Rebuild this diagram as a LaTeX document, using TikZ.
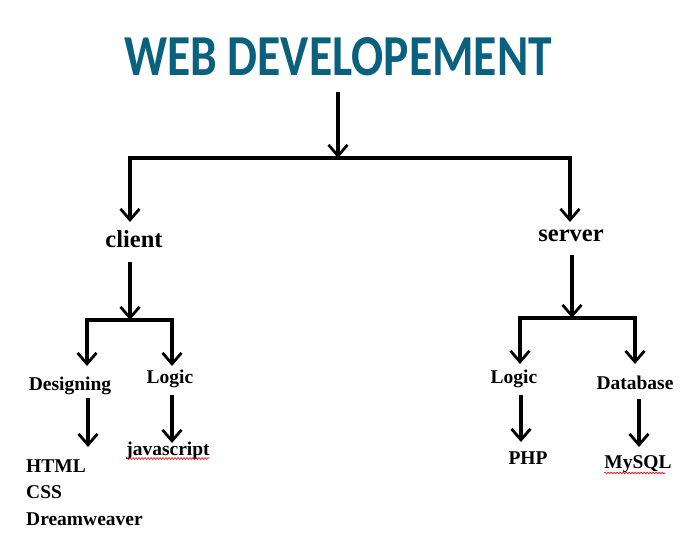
\documentclass[tikz,border=0pt]{standalone}
\usepackage{fontspec}
\setmainfont{Liberation Serif}
\newfontfamily\titlefont{Carlito}
\usetikzlibrary{arrows.meta,decorations.pathmorphing}
\definecolor{titleteal}{HTML}{0A617D}
\begin{document}
\begin{tikzpicture}[x=1pt,y=-1pt,
  conn/.style={line width=3.2pt,-{Straight Barb[length=11pt,width=19pt,line width=2.8pt]}},
  bar/.style={line width=3.4pt,line cap=rect},
  lbl/.style={anchor=base,inner sep=0pt,font=\fontsize{19.5}{22}\selectfont\bfseries},
  big/.style={anchor=base,inner sep=0pt,font=\fontsize{24.5}{28}\selectfont\bfseries},
  spell/.style={red,line width=0.6pt,decorate,decoration={snake,amplitude=0.9pt,segment length=3pt}}]
\fill[white] (0,0) rectangle (683,544);
\useasboundingbox (0,0) rectangle (683,544);

% texts
\node[anchor=base,inner sep=0pt,text=titleteal,xscale=0.82,font=\fontsize{58}{60}\selectfont\titlefont\bfseries] (title) at (338,75) {WEB DEVELOPEMENT};
\node[big] (client) at (134,247) {client};
\node[big] (server) at (571,241) {server};
\node[lbl] (design) at (70,390) {Designing};
\node[lbl] (clogic) at (170,383) {Logic};
\node[lbl] (js) at (168,455) {javascript};
\node[lbl,anchor=base west] (html) at (26,472) {HTML};
\node[lbl,anchor=base west] (css) at (26,498) {CSS};
\node[lbl,anchor=base west] (dw) at (26,525) {Dreamweaver};
\node[lbl] (slogic) at (514,383) {Logic};
\node[lbl] (db) at (635,389) {Database};
\node[lbl] (php) at (528,464) {PHP};
\node[lbl] (mysql) at (638,468) {MySQL};

% coordinates
\coordinate (t0) at (338,92);
\coordinate (j0) at (338,158);
\coordinate (j0l) at (130,158);
\coordinate (j0r) at (570,158);
\coordinate (c0) at (130,222);
\coordinate (s0) at (570,222);

\coordinate (c1) at (130,262);
\coordinate (cj) at (130,320);
\coordinate (cjl) at (87,320);
\coordinate (cjr) at (172,320);
\coordinate (d0) at (87,366);
\coordinate (l0) at (172,366);
\coordinate (d1) at (88,398);
\coordinate (d2) at (88,447);
\coordinate (l1) at (172,395);
\coordinate (l2) at (172,443);

\coordinate (s1) at (572,255);
\coordinate (sj) at (572,318);
\coordinate (sjl) at (520,318);
\coordinate (sjr) at (635,318);
\coordinate (sl0) at (520,364);
\coordinate (sd0) at (635,364);
\coordinate (sl1) at (521,395);
\coordinate (sl2) at (521,442);
\coordinate (sd1) at (639,399);
\coordinate (sd2) at (639,447);

% top level
\draw[conn] (t0) -- (j0);
\draw[bar] (j0l) -- (j0r);
\draw[conn] (j0l) -- (c0);
\draw[conn] (j0r) -- (s0);

% client branch
\draw[conn] (c1) -- (cj);
\draw[bar] (cjl) -- (cjr);
\draw[conn] (cjl) -- (d0);
\draw[conn] (cjr) -- (l0);
\draw[conn] (d1) -- (d2);
\draw[conn] (l1) -- (l2);

% server branch
\draw[conn] (s1) -- (sj);
\draw[bar] (sjl) -- (sjr);
\draw[conn] (sjl) -- (sl0);
\draw[conn] (sjr) -- (sd0);
\draw[conn] (sl1) -- (sl2);
\draw[conn] (sd1) -- (sd2);

% spell-check underlines
\draw[spell] (js.base west) ++(0,3.5) -- ++(83,0);
\draw[spell] (mysql.base west) ++(0,5) -- ++(61,0);
\end{tikzpicture}
\end{document}
